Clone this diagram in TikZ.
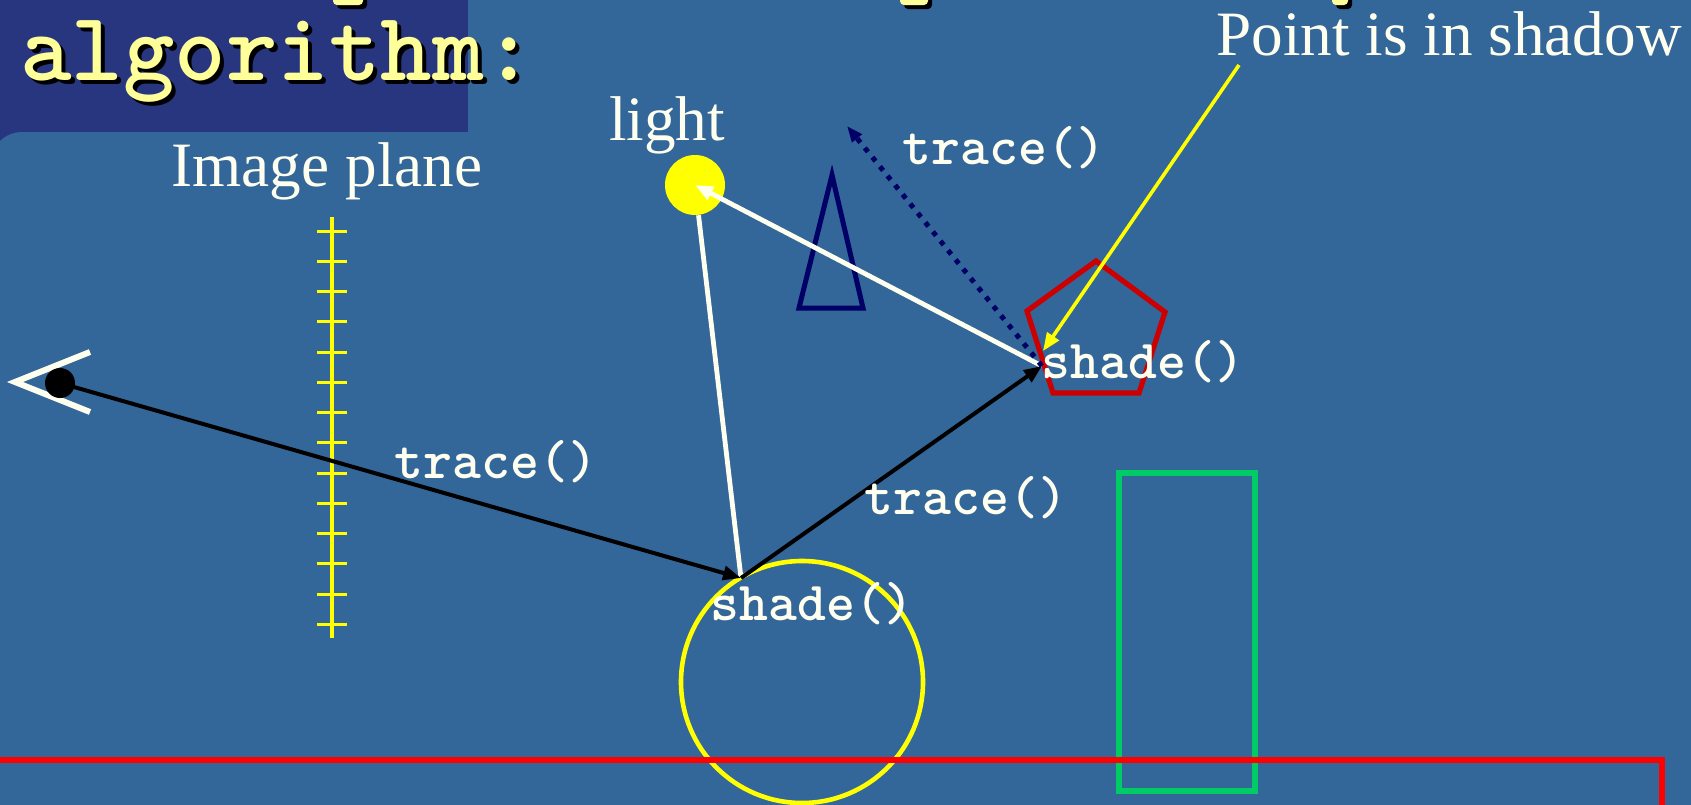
\documentclass[tikz,border=0pt]{standalone}
\usepackage{fontspec}
\setmainfont{Liberation Serif}
\newfontfamily\codefont{lmmonolt10-bold.otf}
\usetikzlibrary{arrows.meta}
\definecolor{bgblue}{HTML}{336699}
\definecolor{titlebox}{HTML}{283680}
\definecolor{titleyellow}{HTML}{FFFF99}
\definecolor{cream}{HTML}{FFFFF0}
\definecolor{navy}{HTML}{000066}
\definecolor{pentred}{HTML}{CC0000}
\definecolor{boxgreen}{HTML}{00CC66}
\definecolor{floorred}{HTML}{FF0000}
\definecolor{yel}{HTML}{FFFF00}
\tikzset{
  codelabel/.style={inner sep=0pt, text=cream, font=\fontsize{27.5}{31}\codefont},
  seriflabel/.style={inner sep=0pt, text=cream, font=\fontsize{31.6}{36}\selectfont},
  titletext/.style={inner sep=0pt, font=\fontsize{49}{54}\codefont},
  tip/.style={-{Triangle[length=9pt,width=7pt]}},
  rayblack/.style={draw=black, line width=2pt, tip},
  raywhite/.style={draw=cream, line width=2.4pt},
  pointer/.style={draw=yel, line width=1.8pt, tip},
  shadowray/.style={draw=navy, line width=2.5pt, dash pattern=on 2.5pt off 3.5pt, -{Triangle[length=8pt,width=6pt]}},
  fragment/.style={rounded corners=2pt},
}
\begin{document}
\begin{tikzpicture}[x=0.5pt,y=-0.5pt]
\useasboundingbox (0,0) rectangle (1691,804);
\clip (0,0) rectangle (1691,804);
% background
\fill[bgblue] (0,0) rectangle (1691,804);
\fill[titlebox] (0,0) rectangle (468,170);
\fill[bgblue, rounded corners=15.5pt] (-9,132) rectangle (1720,840);
% fragments of the cut-off first title line
\foreach \a/\b in {333/363, 900/928, 1332/1348}{
  \fill[black, fragment] (\a+4,-10) rectangle (\b+4,9);
  \fill[titleyellow, fragment] (\a,-10) rectangle (\b,5);
}
% title
\node[titletext, text=black, anchor=base west] at (24,84) {algorithm:};
\node[titletext, text=titleyellow, anchor=base west] (title) at (20,80) {algorithm:};
% labels
\node[seriflabel, anchor=base] (imgplanelbl) at (327,186) {Image plane};
\node[seriflabel, anchor=base] (lightlbl) at (667,140) {light};
\node[seriflabel, anchor=base] (shadowlbl) at (1449,55) {Point is in shadow};
% image plane
\draw[yel, line width=2pt] (332,217) -- (332,638);
\foreach \i in {0,...,13}{
  \draw[yel, line width=1.5pt] (317,231+30.25*\i) -- (347,231+30.25*\i);
}
% objects
\draw[navy, line width=2.5pt, line join=miter] (832,175) -- (863,308) -- (799,308) -- cycle;
\draw[pentred, line width=2.6pt, line join=miter] (1096,261) -- (1165,312) -- (1139,393) -- (1053,393) -- (1027,311) -- cycle;
\draw[boxgreen, line width=2.8pt] (1119,473) rectangle (1255,791);
\draw[yel, line width=2.3pt] (802,682) circle (121);
\draw[floorred, line width=3pt, line join=miter] (0,760) -- (1662,760) -- (1662,830);
% eye
\draw[cream, line width=3pt, line join=miter] (90,352) -- (15,382) -- (90,412);
\node[circle, fill=black, minimum size=15pt, inner sep=0pt] (eyedot) at (60,383) {};
% light
\node[circle, fill=yel, minimum size=30pt, inner sep=0pt] (light) at (695,185) {};
% hit points
\coordinate (A) at (741,578);
\coordinate (B) at (1042,366);
\coordinate (C) at (847,126);
\coordinate (P) at (1239,65);
% rays
\draw[raywhite] (A) -- (light);
\draw[raywhite, tip] (B) -- (light.center);
\draw[shadowray] (B) -- (C);
\draw[rayblack] (eyedot.center) -- (A);
\draw[rayblack] (A) -- (B);
\draw[pointer] (P) -- (1043,351);
% code labels
\node[codelabel] (trace1) at (496,462) {trace()};
\node[codelabel] (trace2) at (966,498) {trace()};
\node[codelabel] (trace3) at (1004,148) {trace()};
\node[codelabel] (shade1) at (812,604) {shade()};
\node[codelabel] (shade2) at (1143,362) {shade()};
\end{tikzpicture}
\end{document}
